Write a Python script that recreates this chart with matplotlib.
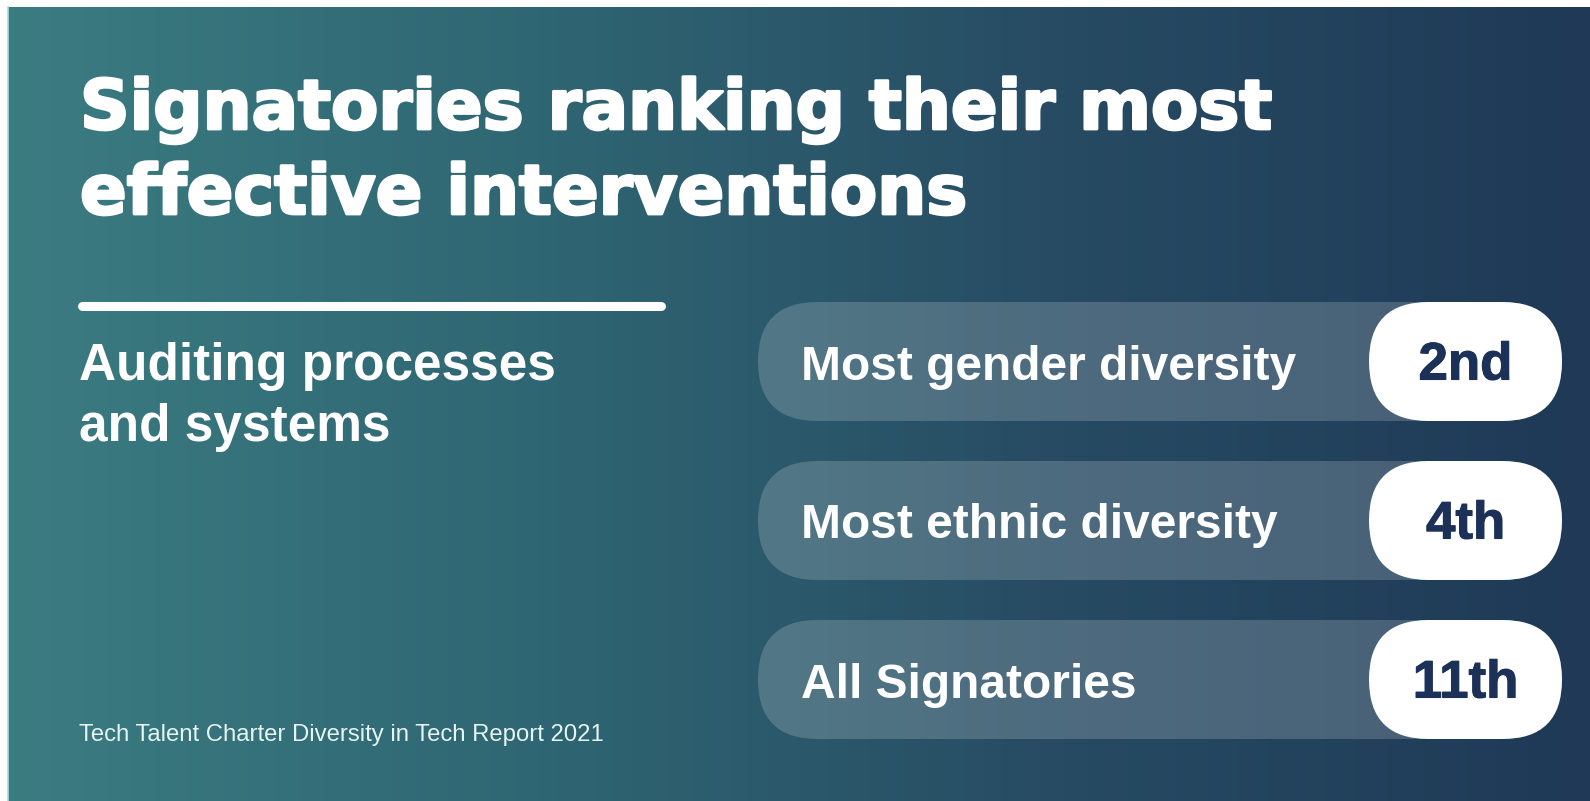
import numpy as np
import matplotlib
matplotlib.use("Agg")
import matplotlib.pyplot as plt
from matplotlib.patches import FancyBboxPatch
from matplotlib.colors import LinearSegmentedColormap
import matplotlib.patheffects as pe

# Content
title_lines = ["Signatories ranking their most", "effective interventions"]
intervention = ["Auditing processes", "and systems"]
categories = ["Most gender diversity", "Most ethnic diversity", "All Signatories"]
ranks = [2, 4, 11]
source = "Tech Talent Charter Diversity in Tech Report 2021"


def ordinal(n):
    if 10 <= n % 100 <= 20:
        suffix = "th"
    else:
        suffix = {1: "st", 2: "nd", 3: "rd"}.get(n % 10, "th")
    return f"{n}{suffix}"


W, H = 1590, 801
fig = plt.figure(figsize=(W / 100, H / 100), dpi=100)
fig.patch.set_facecolor("white")
ax = fig.add_axes([0, 0, 1, 1])
ax.set_xlim(0, W)
ax.set_ylim(H, 0)
ax.axis("off")

FONT = "Liberation Sans"
HEAVY = "DejaVu Sans"
NAVY = "#1c3157"

# Background panel with horizontal teal-to-navy gradient
x0, y0 = 8, 7
grad = LinearSegmentedColormap.from_list(
    "bg", ["#3b7c81", "#2f6673", "#274b63", "#1f3956"])
g = np.linspace(0, 1, 512).reshape(1, -1)
ax.imshow(g, cmap=grad, extent=[x0, W, H, y0], aspect="auto", zorder=0)
ax.plot([x0 - 0.5, x0 - 0.5], [y0, H], color="#a8dcdc", lw=1.2, zorder=1)

# Title
title_fx = [pe.withStroke(linewidth=2.0, foreground="white")]
for i, line in enumerate(title_lines):
    ax.text(80, 129 + i * 85, line, fontsize=49.6, fontweight="bold",
            family=HEAVY, color="white", ha="left", va="baseline",
            path_effects=title_fx, zorder=3)

# Divider
ax.plot([82, 661], [306, 306], color="white", lw=6.5,
        solid_capstyle="round", zorder=3)

# Intervention name
for i, line in enumerate(intervention):
    ax.text(79, 380 + i * 61, line, fontsize=37, fontweight="bold",
            family=FONT, color="white", ha="left", va="baseline", zorder=3)

# Source note
ax.text(79, 741, source, fontsize=17.2, family=FONT, color="#e6f4f4",
        ha="left", va="baseline", zorder=3)

# Ranking pills
pill_x0, pill_x1 = 758, 1562
badge_x0 = 1369
pill_h = 119
pill_tops = [302, 461, 620]
for cat, rank, top in zip(categories, ranks, pill_tops):
    r = pill_h / 2
    bar = FancyBboxPatch((pill_x0, top), pill_x1 - pill_x0, pill_h,
                         boxstyle=f"round,pad=0,rounding_size={r}",
                         facecolor="white", alpha=0.18, edgecolor="none",
                         zorder=2)
    ax.add_patch(bar)
    badge = FancyBboxPatch((badge_x0, top), pill_x1 - badge_x0, pill_h,
                           boxstyle=f"round,pad=0,rounding_size={r}",
                           facecolor="white", edgecolor="none", zorder=3)
    ax.add_patch(badge)
    cy = top + pill_h / 2
    ax.text(801, cy + 18, cat, fontsize=34.5, fontweight="bold", family=FONT,
            color="white", ha="left", va="baseline", zorder=4)
    ax.text((badge_x0 + pill_x1) / 2, cy + 18, ordinal(rank), fontsize=38,
            fontweight="bold", family=FONT, color=NAVY, ha="center",
            va="baseline", zorder=4,
            path_effects=[pe.withStroke(linewidth=0.8, foreground=NAVY)])

fig.savefig("out.png", dpi=100, facecolor=fig.get_facecolor())
